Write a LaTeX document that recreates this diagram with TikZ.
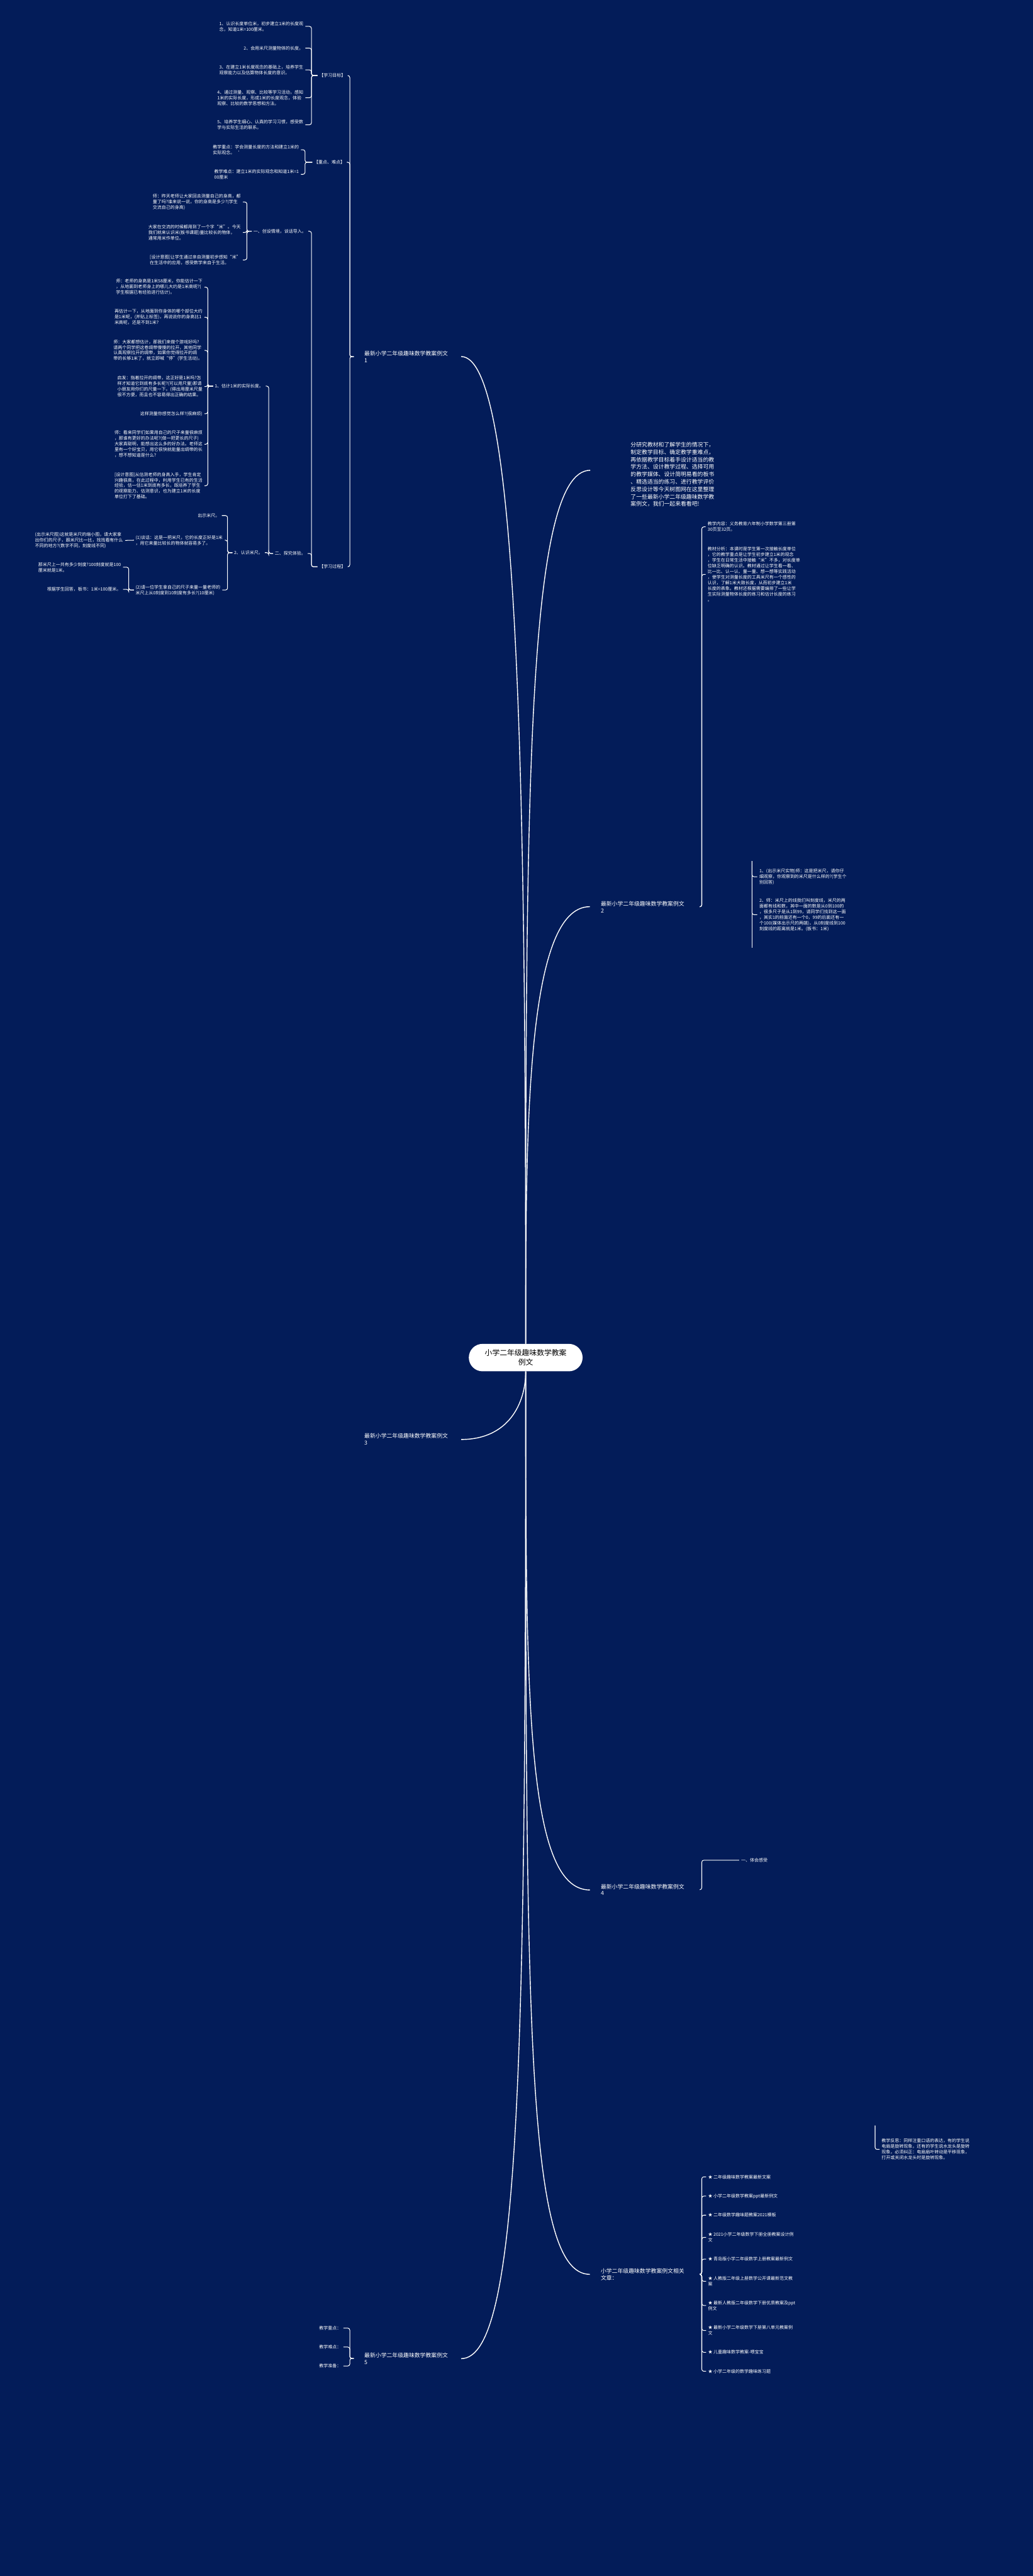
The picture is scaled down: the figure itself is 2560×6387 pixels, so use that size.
\documentclass[tikz,border=0pt]{standalone}
\usepackage{fontspec}
\setmainfont{Noto Sans CJK SC}
\XeTeXlinebreaklocale "zh"
\XeTeXlinebreakskip=0pt plus 1pt
\definecolor{fondo}{RGB}{3,28,89}
\tikzset{
  hoja/.style={text=white, inner sep=0pt, align=left, font=\fontsize{10.9}{14}\selectfont},
  rama/.style={text=white, inner sep=0pt, align=left, font=\fontsize{13.8}{16.7}\selectfont},
  resumen/.style={text=white, inner sep=0pt, align=left, font=\fontsize{13.8}{18.4}\selectfont},
  raiz/.style={fill=white, text=black, rounded corners=34pt, minimum width=282pt, minimum height=68pt, align=center, font=\fontsize{18.4}{23}\selectfont},
  tronco/.style={draw=white, line width=2.2pt},
  enlace/.style={draw=white, line width=1.6pt, rounded corners=5pt},
}
\begin{document}
\begin{tikzpicture}[x=1pt,y=-1pt]
  % Fondo
  \fill[fondo] (0,0) rectangle (2560,6387);
  \useasboundingbox (0,0) rectangle (2560,6387);

  % Nodo central
  \node[raiz] (raiz) at (1303,3366) {小学二年级趣味数学教案\\例文};

  % Ramas principales
  \node[rama, anchor=north west] (r1) at (903,870) {最新小学二年级趣味数学教案例文\\1};
  \node[rama, anchor=north west] (r2) at (1489,2234) {最新小学二年级趣味数学教案例文\\2};
  \node[rama, anchor=north west] (r3) at (903,3554) {最新小学二年级趣味数学教案例文\\3};
  \node[rama, anchor=north west] (r4) at (1489,4671) {最新小学二年级趣味数学教案例文\\4};
  \node[rama, anchor=north west] (r5) at (903,5833) {最新小学二年级趣味数学教案例文\\5};
  \node[rama, anchor=north west] (rel) at (1489,5624) {小学二年级趣味数学教案例文相关\\文章：};
  \node[resumen, anchor=north west] (res) at (1563,1096) {分研究教材和了解学生的情况下，\\制定教学目标、确定教学重难点，\\再依据教学目标着手设计适当的教\\学方法、设计教学过程、选择可用\\的教学媒体、设计简明易看的板书\\、精选适当的练习、进行教学评价\\反思设计等今天树图网在这里整理\\了一些最新小学二年级趣味数学教\\案例文，我们一起来看看吧!};

  \draw[tronco] (raiz.north) .. controls (1303,2000) and (1290,884) .. (1143,884);
  \draw[tronco] (raiz.north) .. controls (1303,2000) and (1303,1166) .. (1463,1166);
  \draw[tronco] (raiz.north) .. controls (1303,2800) and (1303,2248) .. (1462,2248);
  \draw[tronco] (raiz.south) .. controls (1303,3480) and (1260,3569) .. (1143,3569);
  \draw[tronco] (raiz.south) .. controls (1303,4200) and (1303,4686) .. (1462,4686);
  \draw[tronco] (raiz.south) .. controls (1303,5000) and (1303,5639) .. (1462,5639);
  \draw[tronco] (raiz.south) .. controls (1303,5100) and (1290,5848) .. (1143,5848);

  % Rama 1
  \node[hoja, anchor=north west] (mt) at (791,182) {【学习目标】};
  \node[hoja, anchor=north east] (mt1) at (752,53) {1、认识长度单位米，初步建立1米的长度观\\念，知道1米=100厘米。};
  \node[hoja, anchor=north east] (mt2) at (752,114) {2、会用米尺测量物体的长度。};
  \node[hoja, anchor=north east] (mt3) at (752,161) {3、在建立1米长度观念的基础上，培养学生\\观察能力以及估算物体长度的意识。};
  \node[hoja, anchor=north east] (mt4) at (752,223) {4、通过测量、观察、比较等学习活动，感知\\1米的实际长度，形成1米的长度观念，体验\\观察、比较的数学思想和方法。};
  \node[hoja, anchor=north east] (mt5) at (752,297) {5、培养学生细心、认真的学习习惯，感受数\\学与实际生活的联系。};
  \node[hoja, anchor=north west] (zd) at (778,397) {【重点、难点】};
  \node[hoja, anchor=north east] (zd1) at (741,359) {教学重点：学会测量长度的方法和建立1米的\\实际观念。`};
  \node[hoja, anchor=north east] (zd2) at (741,420) {教学难点：建立1米的实际观念和知道1米=1\\00厘米};
  \node[hoja, anchor=north west] (gc) at (791,1400) {【学习过程】};

  \node[hoja, anchor=north west] (p1) at (628,568) {一、创设情境，谈话导入。};
  \node[hoja, anchor=north east] (c1) at (597,481) {师：昨天老师让大家回去测量自己的身高，都\\量了吗?谁来说一说，你的身高是多少?(学生\\交流自己的身高)};
  \node[hoja, anchor=north east] (c2) at (597,557) {大家在交流的时候都用到了一个字“米”。今天\\我们就来认识米(板书课题)量比较长的物体，\\通常用米作单位。};
  \node[hoja, anchor=north east] (c3) at (597,632) {[设计意图]让学生通过亲自测量初步感知“米”\\在生活中的应用，感受数学来自于生活。};

  \node[hoja, anchor=north west] (p2) at (681,1367) {二、探究体验。};
  \node[hoja, anchor=north west] (q1) at (532,952) {1、估计1米的实际长度。};
  \node[hoja, anchor=north east] (e1) at (502,692) {师：老师的身高是1米58厘米，你能估计一下\\，从地面到老师身上的哪儿大约是1米高呢?(\\学生根据已有经验进行估计)。};
  \node[hoja, anchor=north east] (e2) at (502,767) {再估计一下，从地面到你身体的哪个部位大约\\是1米呢，(并贴上标签)，再说说你的身高比1\\米高呢，还是不到1米?};
  \node[hoja, anchor=north east] (e3) at (502,842) {师：大家都想估计，那我们来做个游戏好吗?\\请两个同学把这卷绸带慢慢的拉开，其他同学\\认真观察拉开的绸带，如果你觉得拉开的绸\\带的长够1米了，就立即喊“停”(学生活动)。};
  \node[hoja, anchor=north east] (e4) at (502,932) {启发：指着拉开的绸带，这正好是1米吗?怎\\样才知道它到底有多长呢?(可以用尺量)那请\\小朋友用你们的尺量一下。(得出用厘米尺量\\很不方便，而且也不容易得出正确的结果。};
  \node[hoja, anchor=north east] (e5) at (502,1020) {这样测量你感觉怎么样?(很麻烦)};
  \node[hoja, anchor=north east] (e6) at (502,1068) {师：看来同学们如果用自己的尺子来量很麻烦\\，那谁有更好的办法呢?(做一把更长的尺子)\\大家真聪明，能想出这么多的好办法。老师这\\里有一个好宝贝，用它很快就能量出绸带的长\\，想不想知道是什么?};
  \node[hoja, anchor=north east] (e7) at (502,1171) {[设计意图]从估测老师的身高入手，学生肯定\\兴趣很高，在此过程中，利用学生已有的生活\\经验，估一估1米到底有多长，既培养了学生\\的观察能力、估测意识，也为建立1米的长度\\单位打下了基础。};
  \node[hoja, anchor=north west] (q2) at (580,1365) {2、认识米尺。};
  \node[hoja, anchor=north east] (m1) at (545,1273) {出示米尺。};
  \node[hoja, anchor=north west] (m2) at (336,1327) {(1)谈话：这是一把米尺，它的长度正好是1米\\，用它来量比较长的物体就容易多了。};
  \node[hoja, anchor=north east] (m2a) at (305,1320) {(出示米尺图)这就是米尺的缩小图，请大家拿\\出你们的尺子，跟米尺比一比，找找看有什么\\不同的地方?(数字不同，刻度线不同)};
  \node[hoja, anchor=north west] (m3) at (336,1450) {(2)请一位学生拿自己的尺子来量一量老师的\\米尺上从0刻度到10刻度有多长?(10厘米)};
  \node[hoja, anchor=north east] (m3a) at (300,1394) {那米尺上一共有多少刻度?100刻度就是100\\厘米就是1米。};
  \node[hoja, anchor=north east] (m3b) at (300,1456) {根据学生回答，板书：1米=100厘米。};

  \foreach \h in {mt,zd,gc}
    \draw[enlace] ([xshift=-26pt]r1.west) -- ++(-10,0) |- ([xshift=5pt]\h.east);
  \foreach \h in {mt1,mt2,mt3,mt4,mt5}
    \draw[enlace] ([xshift=-4pt]mt.west) -- ++(-15,0) |- ([xshift=5pt]\h.east);
  \foreach \h in {zd1,zd2}
    \draw[enlace] ([xshift=-4pt]zd.west) -- ++(-18,0) |- ([xshift=5pt]\h.east);
  \foreach \h in {p1,p2}
    \draw[enlace] ([xshift=-4pt]gc.west) -- ++(-15,0) |- ([xshift=5pt]\h.east);
  \foreach \h in {c1,c2,c3}
    \draw[enlace] ([xshift=-4pt]p1.west) -- ++(-12,0) |- ([xshift=5pt]\h.east);
  \foreach \h in {q1,q2}
    \draw[enlace] ([xshift=-4pt]p2.west) -- ++(-11,0) |- ([xshift=5pt]\h.east);
  \foreach \h in {e1,e2,e3,e4,e5,e6,e7}
    \draw[enlace] ([xshift=-4pt]q1.west) -- ++(-13,0) |- ([xshift=5pt]\h.east);
  \foreach \h in {m1,m2,m3}
    \draw[enlace] ([xshift=-4pt]q2.west) -- ++(-12,0) |- ([xshift=5pt]\h.east);
  \draw[enlace] ([xshift=-4pt]m2.west) -- ([xshift=5pt]m2a.east);
  \foreach \h in {m3a,m3b}
    \draw[enlace] ([xshift=-4pt]m3.west) -- ++(-13,0) |- ([xshift=5pt]\h.east);

  % Rama 2
  \node[hoja, anchor=north west] (b2a) at (1754,1294) {教学内容：义务教育六年制小学数学第三册第\\30页至32页。};
  \node[hoja, anchor=north west] (b2b) at (1754,1356) {教材分析：本课时是学生第一次接触长度单位\\，它的教学重点是让学生初步建立1米的观念\\，学生在日常生活中接触“米”不多，对长度单\\位缺乏明确的认识。教材通过让学生看一看、\\比一比、认一认、量一量、想一想等实践活动\\，使学生对测量长度的工具米尺有一个感性的\\认识，了解1米大致长度，从而初步建立1米\\长度的表象。教材还根据需要编排了一些让学\\生实际测量物体长度的练习和估计长度的练习\\。};
  \foreach \h in {b2a,b2b}
    \draw[enlace] ([xshift=38pt]r2.east) -- ++(5,0) |- ([xshift=-5pt]\h.west);
  \node[hoja, anchor=north west] (l1) at (1882,2154) {1、(出示米尺实物)师：这是把米尺，请你仔\\细观察，你观察到的米尺是什么样的?(学生个\\别回答)};
  \node[hoja, anchor=north west] (l2) at (1882,2227) {2、师：米尺上的线我们叫刻度线，米尺的两\\面都有线和数，其中一面的数是从0到100的\\，很多尺子是从1到99，请同学们找到这一面\\，其实1的前面还有一个0，99的后面还有一\\个100(媒体出示尺的两端)，从0刻度线到100\\刻度线的距离就是1米。(板书：1米)};
  \coordinate (k2) at (1864,2135);
  \coordinate (k2b) at (1864,2350);
  \draw[enlace] (k2) -- (k2b);
  \foreach \h in {l1,l2}
    \draw[enlace] (k2) |- ([xshift=-5pt]\h.west);

  % Rama 4
  \node[hoja, anchor=north west] (f1) at (1837,4607) {一、体会感受};
  \draw[enlace] ([xshift=38pt]r4.east) -- ++(5,0) |- ([xshift=-5pt]f1.west);
  \node[hoja, anchor=north west] (fr) at (2185,5303) {教学反思：同样注重口语的表达，有的学生说\\电扇是旋转现象，还有的学生说水龙头是旋转\\现象，必须纠正：电扇扇叶转动是平移现象，\\打开或关闭水龙头时是旋转现象。};
  \coordinate (k4) at (2169,5270);
  \draw[enlace] (k4) |- ([xshift=-5pt]fr.west);

  % Rama 5
  \node[hoja, anchor=north east] (t1) at (846,5767) {教学重点：};
  \node[hoja, anchor=north east] (t2) at (846,5814) {教学难点：};
  \node[hoja, anchor=north east] (t3) at (846,5861) {教学准备：};
  \foreach \h in {t1,t2,t3}
    \draw[enlace] ([xshift=-26pt]r5.west) -- ++(-10,0) |- ([xshift=5pt]\h.east);

  % Articulos relacionados
  \node[hoja, anchor=north west] (a1) at (1755,5392) {★ 二年级趣味数学教案最新文案};
  \node[hoja, anchor=north west] (a2) at (1755,5439) {★ 小学二年级数学教案ppt最新例文};
  \node[hoja, anchor=north west] (a3) at (1755,5487) {★ 二年级数学趣味题教案2021模板};
  \node[hoja, anchor=north west] (a4) at (1755,5535) {★ 2021小学二年级数学下册全册教案设计例\\文};
  \node[hoja, anchor=north west] (a5) at (1755,5596) {★ 青岛版小学二年级数学上册教案最新例文};
  \node[hoja, anchor=north west] (a6) at (1755,5644) {★ 人教版二年级上册数学公开课最新范文教\\案};
  \node[hoja, anchor=north west] (a7) at (1755,5704) {★ 最新人教版二年级数学下册优质教案及ppt\\例文};
  \node[hoja, anchor=north west] (a8) at (1755,5766) {★ 最新小学二年级数学下册第八单元教案例\\文};
  \node[hoja, anchor=north west] (a9) at (1755,5827) {★ 儿童趣味数学教案-喂宝宝};
  \node[hoja, anchor=north west] (a10) at (1755,5874) {★ 小学二年级的数学趣味练习题};
  \foreach \h in {a1,a2,a3,a4,a5,a6,a7,a8,a9,a10}
    \draw[enlace] ([xshift=38pt]rel.east) -- ++(5,0) |- ([xshift=-5pt]\h.west);
\end{tikzpicture}
\end{document}
